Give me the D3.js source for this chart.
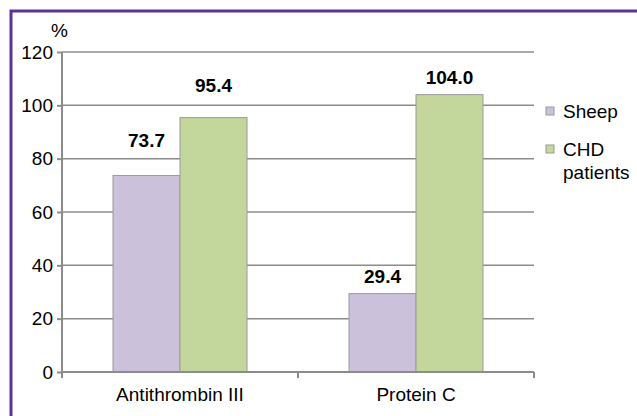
<!DOCTYPE html>
<html>
<head>
<meta charset="utf-8">
<script src="https://cdn.jsdelivr.net/npm/d3@7"></script>
<style>
  body { margin: 0; background: #fff; }
  svg { display: block; font-family: "Liberation Sans", Arial, sans-serif; }
  .grid line { stroke: #8c8c8c; stroke-width: 1.5; }
  .axis path, .axis line { stroke: #8c8c8c; stroke-width: 2; }
  .axis text { fill: #000; }
</style>
</head>
<body>
<svg id="chart" width="637" height="416"></svg>
<script>
var categories = ['Antithrombin III', 'Protein C'];
var seriesNames = ['Sheep', 'CHD patients'];
var sheepValues = [73.7, 29.4];
var chdValues = [95.4, 104.0];
var yTicks = [0, 20, 40, 60, 80, 100, 120];

var colors = ['#ccc1da', '#c3d69b'];
// how far each value label sits above its bar (px), per category
var labelLift = [[28, 26], [11, 11]];

var svg = d3.select('#chart');
var margin = {left: 62, top: 52, right: 103, bottom: 44},
    width = 637 - margin.left - margin.right,
    height = 416 - margin.top - margin.bottom;

// purple frame, only left and top edges show
svg.append('rect')
  .attr('x', 11).attr('y', 11)
  .attr('width', 700).attr('height', 500)
  .attr('fill', 'none')
  .attr('stroke', '#5f3296')
  .attr('stroke-width', 3);

var g = svg.append('g')
  .attr('transform', 'translate(' + margin.left + ',' + margin.top + ')');

var x0 = d3.scaleBand().domain(categories).range([0, width]).paddingInner(0).paddingOuter(0);
var x1 = d3.scaleBand().domain(seriesNames).range([51, x0.bandwidth() - 51]);
var y = d3.scaleLinear().domain([0, 120]).range([height, 0]);

// gridlines
g.append('g').attr('class', 'grid')
  .selectAll('line')
  .data(yTicks.slice(1))
  .enter().append('line')
    .attr('x1', 0).attr('x2', width)
    .attr('y1', function(d) { return y(d); })
    .attr('y2', function(d) { return y(d); });

var rows = categories.map(function(c, i) {
  return {cat: i, values: [sheepValues[i], chdValues[i]]};
});

var groups = g.selectAll('.grp')
  .data(rows)
  .enter().append('g')
    .attr('class', 'grp')
    .attr('transform', function(d) { return 'translate(' + x0(categories[d.cat]) + ',0)'; });

groups.selectAll('rect')
  .data(function(d) { return d.values.map(function(v, j) { return {v: v, s: j, cat: d.cat}; }); })
  .enter().append('rect')
    .attr('x', function(d) { return x1(seriesNames[d.s]); })
    .attr('y', function(d) { return y(d.v); })
    .attr('width', x1.bandwidth())
    .attr('height', function(d) { return height - y(d.v); })
    .attr('fill', function(d) { return colors[d.s]; })
    .attr('stroke', '#9a9a9a')
    .attr('stroke-width', 1);

groups.selectAll('text')
  .data(function(d) { return d.values.map(function(v, j) { return {v: v, s: j, cat: d.cat}; }); })
  .enter().append('text')
    .attr('x', function(d) { return x1(seriesNames[d.s]) + x1.bandwidth() / 2; })
    .attr('y', function(d) { return y(d.v) - labelLift[d.cat][d.s]; })
    .attr('text-anchor', 'middle')
    .attr('font-size', 19)
    .attr('font-weight', 'bold')
    .text(function(d) { return d.v.toFixed(1); });

// y axis
var yAxis = d3.axisLeft(y).tickValues(yTicks).tickSize(5).tickPadding(4);
g.append('g').attr('class', 'axis')
  .call(yAxis)
  .call(function(s) {
    s.select('.domain').attr('d', 'M0,' + height + 'V0');
    s.selectAll('text').attr('font-size', 19).attr('font-family', null);
  });

// x axis
var xAxis = d3.axisBottom(x0).tickSize(0).tickPadding(16);
var xg = g.append('g').attr('class', 'axis')
  .attr('transform', 'translate(0,' + height + ')')
  .call(xAxis);
xg.select('.domain').attr('d', 'M0,0H' + width);
xg.selectAll('text').attr('font-size', 19).attr('font-family', null).attr('dy', '0.71em');
xg.selectAll('.sep')
  .data([0, width / 2, width])
  .enter().append('line')
    .attr('class', 'sep')
    .attr('x1', function(d) { return d; }).attr('x2', function(d) { return d; })
    .attr('y1', 0).attr('y2', 6);

// unit
svg.append('text')
  .attr('x', 51).attr('y', 37)
  .attr('font-size', 19)
  .text('%');

// legend
var legendY = [111, 149];
var legend = svg.selectAll('.leg')
  .data(seriesNames)
  .enter().append('g')
    .attr('class', 'leg')
    .attr('transform', function(d, i) { return 'translate(546,' + legendY[i] + ')'; });

legend.append('rect')
  .attr('x', 0).attr('y', -4)
  .attr('width', 8).attr('height', 8)
  .attr('fill', function(d, i) { return colors[i]; })
  .attr('stroke', '#9a9a9a')
  .attr('stroke-width', 1);

legend.append('text')
  .attr('x', 17)
  .attr('y', 7)
  .attr('font-size', 19)
  .selectAll('tspan')
  .data(function(d) { return d === 'CHD patients' ? ['CHD', 'patients'] : [d]; })
  .enter().append('tspan')
    .attr('x', 17)
    .attr('dy', function(d, i) { return i === 0 ? 0 : 23; })
    .text(function(d) { return d; });
</script>
</body>
</html>
